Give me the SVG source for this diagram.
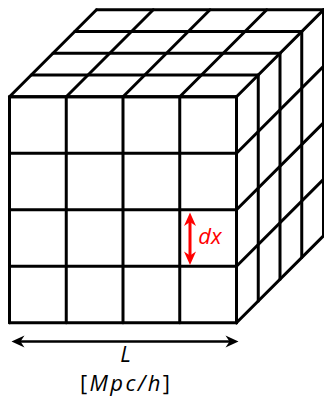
<svg xmlns="http://www.w3.org/2000/svg" width="324" height="398" viewBox="0 0 324 398">
<style>
.g{fill:none;stroke:#000;stroke-width:3;stroke-linecap:round;stroke-linejoin:miter}
.t{font-family:"Open Sans","DejaVu Sans",sans-serif;font-style:italic;font-size:22px;text-anchor:middle}
.r{fill:#ff0000}
</style>
<rect width="324" height="398" fill="#fff"/>
<g id="top-face" class="g">
<path d="M9.5 96.8H236.5M31.25 75.05H258.25M53 53.3H280M74.75 31.55H301.75M96.5 9.8H323.5"/>
<path d="M9.5 96.8L96.5 9.8M66.25 96.8L153.25 9.8M123 96.8L210 9.8M179.75 96.8L266.75 9.8M236.5 96.8L323.5 9.8"/>
</g>
<g id="right-face" class="g">
<path d="M236.5 96.8V322.8M258.25 75.05V301.05M280 53.3V279.3M301.75 31.55V257.55M323.5 9.8V235.8"/>
<path d="M236.5 153.3L323.5 66.3M236.5 209.8L323.5 122.8M236.5 266.3L323.5 179.3M236.5 322.8L323.5 235.8"/>
</g>
<g id="front-face" class="g">
<path d="M9.5 96.8V322.8M66.25 96.8V322.8M123 96.8V322.8M179.75 96.8V322.8M236.5 96.8V322.8"/>
<path d="M9.5 96.8H236.5M9.5 153.3H236.5M9.5 209.8H236.5M9.5 266.3H236.5M9.5 322.8H236.5"/>
</g>
<g id="connectors">
<g id="L-arrow">
<path d="M18 341.5H232" stroke="#000" stroke-width="2.6"/>
<polygon points="11.5,341.5 24.5,335.5 20.5,341.5 24.5,347.5" fill="#000"/>
<polygon points="238.5,341.5 225.5,335.5 229.5,341.5 225.5,347.5" fill="#000"/>
</g>
<g id="dx-arrow">
<path d="M190 219V258" stroke="#ff0000" stroke-width="3"/>
<polygon points="190,212.5 184,226 190,222 196,226" class="r"/>
<polygon points="190,265 184,251.5 190,255.5 196,251.5" class="r"/>
</g>
</g>
<g id="labels">
<text class="t r" x="210" y="244" font-size="24">dx</text>
<text class="t" x="125.5" y="362">L</text>
<text class="t" x="125" y="391" font-size="21" textLength="90" lengthAdjust="spacing"><tspan font-style="normal">[</tspan>Mpc/h<tspan font-style="normal">]</tspan></text>
</g>
</svg>
